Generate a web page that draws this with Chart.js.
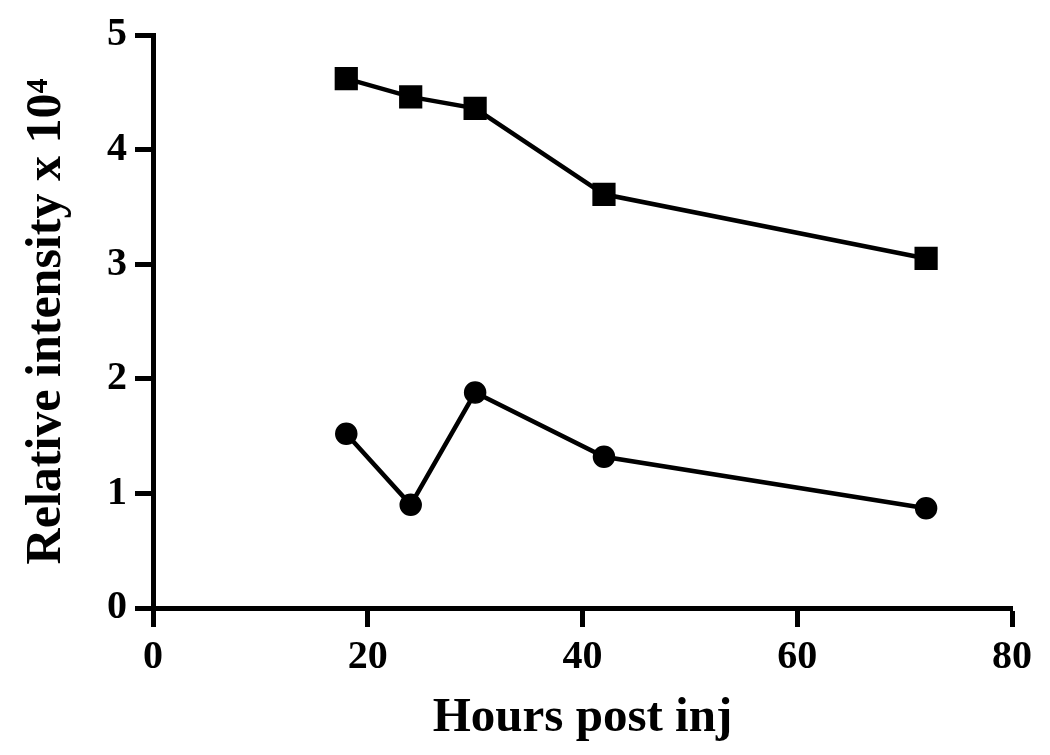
<!DOCTYPE html>
<html>
<head>
<meta charset="utf-8">
<script src="https://cdn.jsdelivr.net/npm/chart.js@4/dist/chart.umd.min.js"></script>
<style>
  html, body { margin: 0; padding: 0; background: #ffffff; }
  #wrap { width: 1050px; height: 755px; }
</style>
</head>
<body>
<div id="wrap"><canvas id="c" width="1050" height="755"></canvas></div>
<script>
const hours = [18, 24, 30, 42, 72];
const squareSeries = [4.62, 4.46, 4.36, 3.61, 3.05];
const circleSeries = [1.52, 0.90, 1.88, 1.32, 0.87];
const xTicks = [0, 20, 40, 60, 80];
const yTicks = [0, 1, 2, 3, 4, 5];
const xTitle = 'Hours post inj';
const yTitle = 'Relative intensity x 10\u2074';

const toPoints = (xs, ys) => xs.map((x, i) => ({ x: x, y: ys[i] }));
const FONT = 'Liberation Serif, Times New Roman, serif';

new Chart(document.getElementById('c'), {
  type: 'scatter',
  data: {
    datasets: [
      {
        label: 'squares',
        data: toPoints(hours, squareSeries),
        showLine: true,
        borderColor: '#000',
        backgroundColor: '#000',
        borderWidth: 4.5,
        pointStyle: 'rect',
        pointRadius: 15,
        pointBorderWidth: 2,
        pointBackgroundColor: '#000',
        pointBorderColor: '#000'
      },
      {
        label: 'circles',
        data: toPoints(hours, circleSeries),
        showLine: true,
        borderColor: '#000',
        backgroundColor: '#000',
        borderWidth: 4.5,
        pointStyle: 'circle',
        pointRadius: 10.5,
        pointBorderWidth: 1.5,
        pointBackgroundColor: '#000',
        pointBorderColor: '#000'
      }
    ]
  },
  options: {
    responsive: false,
    animation: false,
    devicePixelRatio: 1,
    layout: { padding: { top: 35, right: 38, bottom: 0, left: 0 } },
    plugins: { legend: { display: false }, tooltip: { enabled: false } },
    scales: {
      x: {
        type: 'linear',
        min: 0, max: 80,
        afterBuildTicks: s => { s.ticks = xTicks.map(v => ({ value: v })); },
        afterFit: s => { s.height = 147; },
        border: { display: true, color: '#000', width: 5 },
        grid: { display: true, drawOnChartArea: false, drawTicks: true, tickLength: 19, tickWidth: 5, tickColor: '#000', color: '#000' },
        ticks: { color: '#000', padding: 7, maxRotation: 0, font: { family: FONT, size: 40, weight: 'bold' } },
        title: { display: true, text: xTitle, color: '#000', padding: { top: 0, bottom: 7 }, font: { family: FONT, size: 49, weight: 'bold' } }
      },
      y: {
        type: 'linear',
        min: 0, max: 5,
        afterBuildTicks: s => { s.ticks = yTicks.map(v => ({ value: v })); },
        afterFit: s => { s.width = 153; },
        border: { display: true, color: '#000', width: 5 },
        grid: { display: true, drawOnChartArea: false, drawTicks: true, tickLength: 18, tickWidth: 5, tickColor: '#000', color: '#000' },
        ticks: { color: '#000', padding: 8, font: { family: FONT, size: 40, weight: 'bold' } },
        title: { display: true, text: yTitle, color: '#000', padding: { top: 17, bottom: 0 }, font: { family: FONT, size: 50, weight: 'bold' } }
      }
    }
  }
});
</script>
</body>
</html>
